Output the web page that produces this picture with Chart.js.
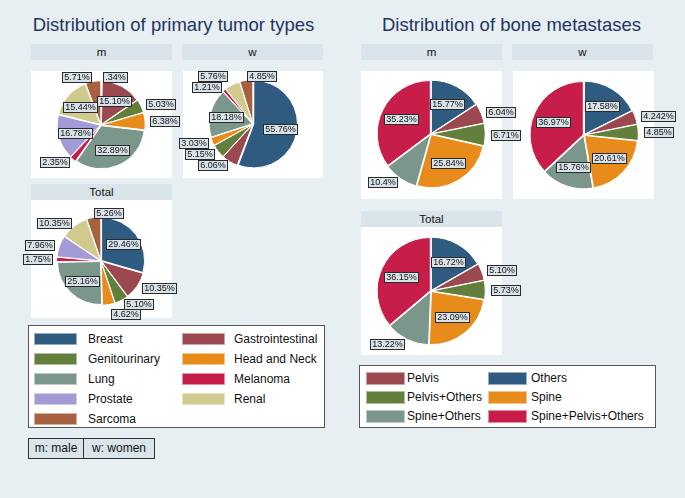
<!DOCTYPE html>
<html>
<head>
<meta charset="utf-8">
<script src="https://cdn.jsdelivr.net/npm/chart.js@4.4.1/dist/chart.umd.min.js"></script>
<style>
body { margin: 0; width: 685px; height: 498px; background: #e8eff3; position: relative; overflow: hidden;
       font-family: "Liberation Sans", Arial, sans-serif; }
div, canvas { position: absolute; box-sizing: border-box; }
.title { font-size: 18.5px; line-height: 22px; color: #1d3560; text-align: center; top: 14px; white-space: nowrap; }
.head { background: #d9e4eb; text-align: center; font-size: 11.5px; line-height: 16px; color: #111; height: 16px; }
.plot { background: #fff; }
.legend { background: #fff; border: 1px solid #555; }
.key { border: 1px solid rgba(255,255,255,0.5); }
.ltxt { font-size: 12px; line-height: 14px; color: #111; white-space: nowrap; }
.note { background: #d9e4eb; border: 1px solid #333; font-size: 12px; line-height: 19px; color: #111; text-align: center; }
</style>
</head>
<body>
<div class="title" style="left:0;width:347px">Distribution of primary tumor types</div>
<div class="title" style="left:338px;width:347px">Distribution of bone metastases</div>

<div class="head" style="left:31px;top:44px;width:141px">m</div>
<div class="plot" style="left:31px;top:71px;width:141px;height:107px"></div>
<div class="head" style="left:182px;top:44px;width:141px">w</div>
<div class="plot" style="left:183px;top:71px;width:140px;height:107px"></div>
<div class="head" style="left:31px;top:184px;width:141px">Total</div>
<div class="plot" style="left:31px;top:200px;width:141px;height:118px"></div>

<div class="head" style="left:361px;top:44px;width:141px">m</div>
<div class="plot" style="left:361px;top:71px;width:141px;height:128px"></div>
<div class="head" style="left:512px;top:44px;width:141px">w</div>
<div class="plot" style="left:513px;top:71px;width:141px;height:128px"></div>
<div class="head" style="left:361px;top:211px;width:141px">Total</div>
<div class="plot" style="left:361px;top:227px;width:141px;height:128px"></div>

<div class="legend" id="legTumor" style="left:28px;top:325px;width:297px;height:103px"></div>
<div class="legend" id="legBone" style="left:359px;top:365px;width:297px;height:63px"></div>
<div class="note" style="left:28px;top:438px;width:56px;height:21px">m: male</div>
<div class="note" style="left:83px;top:438px;width:72px;height:21px">w: women</div>

<canvas id="tumorM" width="200" height="150" style="left:1px;top:50px"></canvas>
<canvas id="tumorW" width="200" height="150" style="left:153px;top:49px"></canvas>
<canvas id="tumorT" width="200" height="150" style="left:1px;top:186px"></canvas>
<canvas id="boneM" width="220" height="170" style="left:321px;top:49px"></canvas>
<canvas id="boneW" width="220" height="170" style="left:474px;top:50px"></canvas>
<canvas id="boneT" width="220" height="170" style="left:321px;top:206px"></canvas>

<script>
// primary tumor types (percent, as printed on the slices)
const tumorTypes = ['Breast', 'Gastrointestinal', 'Genitourinary', 'Head and Neck', 'Lung', 'Melanoma', 'Prostate', 'Renal', 'Sarcoma'];
const tumorMale = ['.34', '15.10', '5.03', '6.38', '32.89', '2.35', '16.78', '15.44', '5.71'];
const tumorWomen = ['55.76', '6.06', '5.15', '3.03', '18.18', '1.21', '', '5.76', '4.85'];
const tumorTotal = ['29.46', '10.35', '5.10', '4.62', '25.16', '1.75', '7.96', '10.35', '5.26'];
const tumorColors = ['#2f5b80', '#9b4850', '#627f3c', '#e78c1b', '#7b978c', '#c61e48', '#a29bd8', '#d1ca8e', '#a8613f'];

// bone metastases
const boneSites = ['Others', 'Pelvis', 'Pelvis+Others', 'Spine', 'Spine+Others', 'Spine+Pelvis+Others'];
const boneMale = ['15.77', '6.04', '6.71', '25.84', '10.4', '35.23'];
const boneWomen = ['17.58', '4.242', '4.85', '20.61', '15.76', '36.97'];
const boneTotal = ['16.72', '5.10', '5.73', '23.09', '13.22', '36.15'];
const boneColors = ['#2f5b80', '#9b4850', '#627f3c', '#e78c1b', '#7b978c', '#c61e48'];

function overlaps(a, b) {
    return a.x < b.x + b.w && b.x < a.x + a.w && a.y < b.y + b.h && b.y < a.y + a.h;
}

// draws the boxed percentage labels
const sliceLabels = {
    id: 'sliceLabels',
    afterDatasetsDraw(chart) {
        const ctx = chart.ctx;
        const ds = chart.data.datasets[0];
        const arcs = chart.getDatasetMeta(0).data;
        const placed = [];
        ctx.save();
        ctx.font = '9px "Liberation Sans", Arial, sans-serif';
        ctx.textAlign = 'center';
        ctx.textBaseline = 'middle';
        arcs.forEach(function (arc, i) {
            const txt = ds.printed[i];
            if (!txt) return;
            const p = arc.getProps(['x', 'y', 'startAngle', 'endAngle', 'outerRadius'], true);
            const mid = (p.startAngle + p.endAngle) / 2;
            const R = p.outerRadius + ds.offset;
            const label = txt + '%';
            const w = Math.round(ctx.measureText(label).width) + 3;
            const h = 10;
            let box;
            if (ds.data[i] >= 14) {
                const cx = p.x + Math.cos(mid) * R * 0.6;
                const cy = p.y + Math.sin(mid) * R * 0.6;
                box = {x: Math.round(cx - w / 2), y: Math.round(cy - h / 2), w: w, h: h};
            } else {
                // clock angle from 12 o'clock, turned a bit so near-vertical labels flip side
                let clock = (mid * 180 / Math.PI + 90 + 10) % 360;
                if (clock < 0) clock += 360;
                const leftSide = clock >= 180;
                let d = R * 1.05;
                for (let k = 0; k < 15; k++) {
                    const px = p.x + Math.cos(mid) * d;
                    const py = p.y + Math.sin(mid) * d;
                    box = {x: Math.round(leftSide ? px - 1 - w : px + 1), y: Math.round(py - h / 2), w: w, h: h};
                    if (!placed.some(b => overlaps(b, box))) break;
                    d += 2;
                }
            }
            placed.push(box);
            ctx.fillStyle = '#d9e2e8';
            ctx.fillRect(box.x, box.y, w, h);
            ctx.strokeStyle = '#2a2a2a';
            ctx.lineWidth = 1;
            ctx.strokeRect(box.x + 0.5, box.y + 0.5, w, h);
            ctx.fillStyle = '#111';
            ctx.fillText(label, box.x + w / 2 + 0.5, box.y + h / 2 + 1);
        });
        ctx.restore();
    }
};

function makePie(id, labels, printed, colors, radius) {
    return new Chart(document.getElementById(id), {
        type: 'pie',
        data: {
            labels: labels,
            datasets: [{
                data: printed.map(v => v === '' ? 0 : Number(v)),
                printed: printed,
                backgroundColor: colors,
                borderColor: '#ffffff',
                borderWidth: 1,
                offset: 3
            }]
        },
        options: {
            responsive: false,
            animation: false,
            radius: radius,
            layout: { padding: 0 },
            plugins: {
                legend: { display: false },
                tooltip: { enabled: false }
            }
        },
        plugins: [sliceLabels]
    });
}

makePie('tumorM', tumorTypes, tumorMale, tumorColors, 43);
makePie('tumorW', tumorTypes, tumorWomen, tumorColors, 43);
makePie('tumorT', tumorTypes, tumorTotal, tumorColors, 43);
makePie('boneM', boneSites, boneMale, boneColors, 53);
makePie('boneW', boneSites, boneWomen, boneColors, 53);
makePie('boneT', boneSites, boneTotal, boneColors, 53);

// legends
function addKey(box, x, y, w, h, color, text, tx) {
    const k = document.createElement('div');
    k.className = 'key';
    k.style.cssText = 'left:' + x + 'px;top:' + (y - h / 2) + 'px;width:' + w + 'px;height:' + h + 'px;background:' + color;
    box.appendChild(k);
    const t = document.createElement('div');
    t.className = 'ltxt';
    t.style.cssText = 'left:' + tx + 'px;top:' + (y - 7) + 'px';
    t.textContent = text;
    box.appendChild(t);
}

const legTumor = document.getElementById('legTumor');
tumorTypes.forEach(function (name, i) {
    const col = i % 2, row = Math.floor(i / 2);
    addKey(legTumor, col ? 153 : 5, 13 + row * 20, 43, 12, tumorColors[i], name, col ? 205 : 59);
});

const legBone = document.getElementById('legBone');
const boneOrder = [1, 0, 2, 3, 4, 5];
boneOrder.forEach(function (idx, i) {
    const col = i % 2, row = Math.floor(i / 2);
    addKey(legBone, col ? 128 : 6, 12 + row * 19, 39, 13, boneColors[idx], boneSites[idx], col ? 171 : 47);
});
</script>
</body>
</html>
